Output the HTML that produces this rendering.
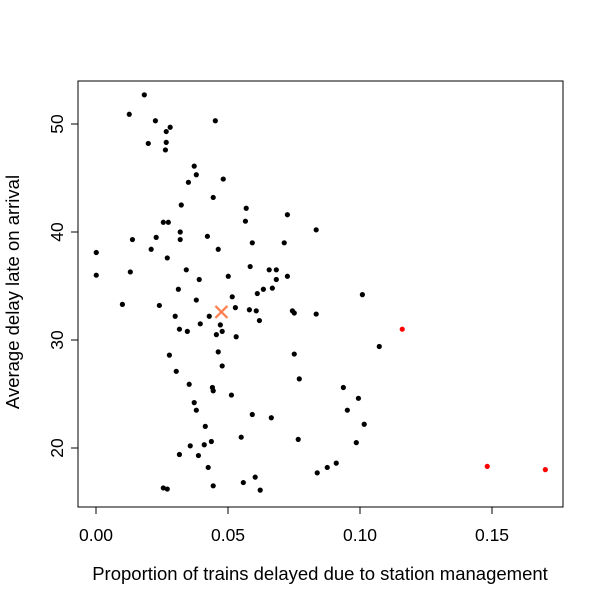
<!DOCTYPE html>
<html><head><meta charset="utf-8"><style>
body{margin:0;background:#fff}
svg{display:block;font-family:"Liberation Sans",Arial,sans-serif}
</style></head><body>
<svg id="chart" width="604" height="604"></svg>
<script>
const xs=[.0183,.0126,.0225,.0452,.0266,.0281,.0198,.0266,.0263,.0372,.0380,.0350,.0482,.0444,.0323,.0569,.0566,.0255,.0274,.0319,.0319,.0138,.0228,.0422,.0592,.0001,.0209,.0463,.0270,.0584,.0001,.0130,.0342,.0391,.0501,.0656,.0683,.0683,.0634,.0668,.0312,.0611,.0516,.0380,.0100,.0240,.0528,.0581,.0607,.0300,.0429,.0619,.0395,.0471,.0316,.0346,.0478,.0456,.0531,.0278,.0463,.0478,.0304,.0353,.0441,.0444,.0513,.0372,.0380,.0592,.0664,.0414,.0550,.0437,.0410,.0357,.0316,.0388,.0425,.0603,.0558,.0444,.0622,.0255,.0270,.0725,.0834,.0713,.0725,.1009,.0744,.0751,.0834,.1073,.0751,.0770,.0937,.0994,.0952,.1016,.0766,.0986,.0910,.0876,.0838];
const ys=[52.7,50.9,50.3,50.3,49.3,49.7,48.2,48.3,47.6,46.1,45.3,44.6,44.9,43.2,42.5,42.2,41.0,40.9,40.9,40.0,39.3,39.3,39.5,39.6,39.0,38.1,38.4,38.4,37.6,36.8,36.0,36.3,36.5,35.6,35.9,36.5,36.5,35.6,34.7,34.8,34.7,34.3,34.0,33.7,33.3,33.2,33.0,32.8,32.7,32.2,32.2,31.8,31.5,31.4,31.0,30.8,30.8,30.5,30.3,28.6,28.9,27.6,27.1,25.9,25.6,25.3,24.9,24.2,23.5,23.1,22.8,22.0,21.0,20.6,20.3,20.2,19.4,19.3,18.2,17.3,16.8,16.5,16.1,16.3,16.2,41.6,40.2,39.0,35.9,34.2,32.7,32.5,32.4,29.4,28.7,26.4,25.6,24.6,23.5,22.2,20.8,20.5,18.6,18.2,17.7];
const outX=[.1160,.1482,.1702];
const outY=[31.0,18.3,18.0];
const meanX=[.0475];
const meanY=[32.6];
const xTicks=[0,0.05,0.10,0.15];
const xTickLabels=["0.00","0.05","0.10","0.15"];
const yTicks=[20,30,40,50];
const yTickLabels=["20","30","40","50"];

const NS="http://www.w3.org/2000/svg";
const svg=document.getElementById('chart');
const sx=v=>96+v*2640;
const sy=v=>448-(v-20)*10.8;
function mk(t,a,p){const e=document.createElementNS(NS,t);for(const k in a)e.setAttribute(k,a[k]);(p||svg).appendChild(e);return e;}

const box=mk('rect',{x:78,y:81,width:485,height:426,fill:'none',stroke:'#000','stroke-width':1});



const xa=mk('g',{});


mk('line',{x1:sx(0),x2:sx(0.15),y1:507,y2:507,stroke:'#000'},xa);
xTicks.forEach((v,i)=>{
  mk('line',{x1:sx(v),x2:sx(v),y1:507,y2:514,stroke:'#000'},xa);
  const t=mk('text',{x:sx(v),y:541,'text-anchor':'middle','font-size':17.5},xa);
  t.textContent=xTickLabels[i];
  
  
});
const ya=mk('g',{});


mk('line',{x1:78,x2:78,y1:sy(20),y2:sy(50),stroke:'#000'},ya);
yTicks.forEach((v,i)=>{
  mk('line',{x1:71,x2:78,y1:sy(v),y2:sy(v),stroke:'#000'},ya);
  const t=mk('text',{x:0,y:0,'text-anchor':'middle','font-size':17.5,transform:`translate(63,${sy(v)}) rotate(-90)`},ya);
  t.textContent=yTickLabels[i];
  
  
});
const xt=mk('text',{x:320,y:580,'text-anchor':'middle','font-size':18.5});
xt.textContent='Proportion of trains delayed due to station management';


const yt=mk('text',{x:0,y:0,'text-anchor':'middle','font-size':18.5,transform:'translate(19,292) rotate(-90)'});
yt.textContent='Average delay late on arrival';



xs.forEach((v,i)=>{
  const c=mk('circle',{cx:sx(v),cy:sy(ys[i]),r:2.6,fill:'#000'});
  
  
});
outX.forEach((v,i)=>{
  const c=mk('circle',{cx:sx(v),cy:sy(outY[i]),r:2.6,fill:'#ff0000'});
  
  
});
meanX.forEach((v,i)=>{
  const cx=sx(v),cy=sy(meanY[i]);
  const g=mk('g',{stroke:'#ff7f50','stroke-width':2.2});
  
  
  mk('line',{x1:cx-6,y1:cy-6,x2:cx+6,y2:cy+6},g);
  mk('line',{x1:cx-6,y1:cy+6,x2:cx+6,y2:cy-6},g);
});
</script>
</body></html>
